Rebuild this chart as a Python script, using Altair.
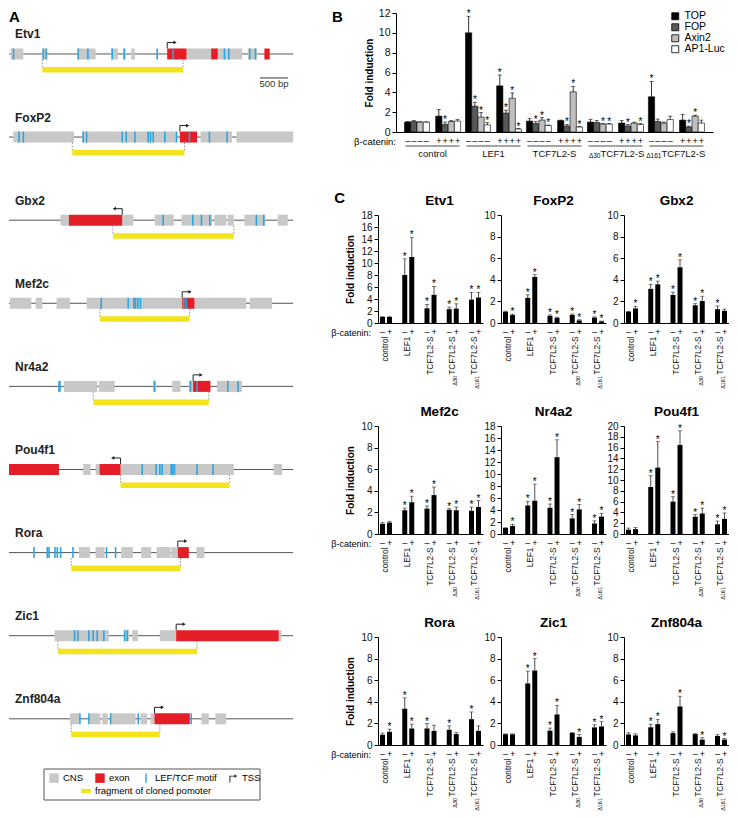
import altair as alt
import pandas as pd

FONT = "Liberation Sans"

# ======================= Panel A : promoter maps (bp) =======================
A_GENES = ["Etv1", "FoxP2", "Gbx2", "Mef2c", "Nr4a2", "Pou4f1", "Rora", "Zic1", "Znf804a"]
TRACK_END_BP = 5060
CNS_BLOCKS = {
    "Etv1": [(30, 255), (593, 682), (1216, 1542), (1820, 1939), (2040, 2080), (2176, 2242), (3161, 3600), (3718, 4151), (4252, 4418)],
    "FoxP2": [(77, 1156), (1305, 2995), (3410, 3973), (4050, 5060)],
    "Gbx2": [(919, 1067), (2016, 2212), (2597, 2935), (3072, 3617), (3659, 3872), (3896, 4003), (4193, 4566), (4786, 4963)],
    "Mef2c": [(18, 397), (474, 593), (848, 1085), (1382, 3084), (3303, 4228), (4287, 4685)],
    "Nr4a2": [(978, 1571), (1601, 1880), (2570, 2620), (2906, 3054), (3202, 3279), (3706, 4151)],
    "Pou4f1": [(1322, 1453), (1542, 1613), (1987, 4003), (4714, 4863)],
    "Rora": [(1245, 1441), (1542, 1702), (1998, 2206), (2354, 2532), (2627, 2876), (2888, 3006), (3339, 3481)],
    "Zic1": [(812, 1779), (2050, 2140), (2194, 2295), (2686, 2977), (4803, 4851)],
    "Znf804a": [(1085, 1245), (1441, 1631), (1660, 1760), (1809, 2253), (2342, 2461), (2520, 2591), (3428, 3558), (3677, 3866)],
}
EXONS = {
    "Etv1": [(2817, 3161), (3600, 3718), (4548, 4643)],
    "FoxP2": [(3042, 3350)],
    "Gbx2": [(1067, 2016)],
    "Mef2c": [(3084, 3303)],
    "Nr4a2": [(3279, 3588)],
    "Pou4f1": [(0, 890), (1613, 1987)],
    "Rora": [(3006, 3202)],
    "Zic1": [(2977, 4803)],
    "Znf804a": [(2591, 3220)],
}
MOTIFS = {
    "Etv1": [80, 611, 664, 1233, 1405, 1838, 2050, 2639, 2923, 3837, 3914, 4287, 4388],
    "FoxP2": [178, 255, 1322, 1382, 2016, 2087, 2242, 2479, 2520, 2568, 2775, 2983, 3214, 3570, 3884],
    "Gbx2": [2746, 3273, 3428, 3576, 4406, 4536],
    "Mef2c": [1643, 2123, 2224, 2253, 2295, 2342, 3113, 3155],
    "Nr4a2": [890, 907, 2591, 3232, 3350, 3896, 4080],
    "Pou4f1": [2372, 2621, 2686, 2728, 2888, 2917, 2947, 3350, 3635],
    "Rora": [445, 682, 712, 818, 860, 919, 1139, 1737, 1898],
    "Zic1": [1168, 1228, 1423, 1500, 1571, 1690, 2058, 2105],
    "Znf804a": [1263, 1423, 1809, 2301, 3244],
}
TSS_BP = {"Etv1": 2817, "FoxP2": 3042, "Gbx2": 2016, "Mef2c": 3084, "Nr4a2": 3279,
          "Pou4f1": 1987, "Rora": 3006, "Zic1": 2977, "Znf804a": 2591}
TSS_STRAND = {"Etv1": "+", "FoxP2": "+", "Gbx2": "-", "Mef2c": "+", "Nr4a2": "+",
              "Pou4f1": "-", "Rora": "+", "Zic1": "+", "Znf804a": "+"}
FRAGMENTS = {"Etv1": (593, 3101), "FoxP2": (1127, 3125), "Gbx2": (1850, 4003), "Mef2c": (1619, 3214),
             "Nr4a2": (1500, 3558), "Pou4f1": (1987, 3926), "Rora": (1109, 3054), "Zic1": (872, 3350),
             "Znf804a": (1109, 2686)}
SCALE_BAR_BP = (4470, 4970)
LEGEND_A_ITEMS = ["CNS", "exon", "LEF/TCF motif", "TSS"]
LEGEND_A_ITEM2 = ["fragment of cloned pomoter"]

# ======================= Panel B : reporter assays =======================
B_GROUPS = ["control", "LEF1", "TCF7L2-S", "Δ30TCF7L2-S", "Δ161TCF7L2-S"]
B_REPORTERS = ["TOP", "FOP", "Axin2", "AP1-Luc"]
B_CATENIN = ["-", "+"]
# order: control-, control+, LEF1-, LEF1+, TCF-, TCF+, d30-, d30+, d161-, d161+
B_VALUES = {
    "TOP":     [1.0, 1.6, 10.0, 4.65, 1.1, 1.15, 1.0, 0.9, 3.55, 1.2],
    "FOP":     [1.05, 0.75, 2.6, 1.9, 0.85, 0.6, 0.95, 0.6, 1.05, 0.5],
    "Axin2":   [1.0, 1.05, 1.5, 3.4, 1.2, 4.05, 0.8, 0.9, 0.9, 1.6],
    "AP1-Luc": [1.0, 1.1, 0.72, 0.3, 0.65, 0.5, 0.8, 0.75, 1.25, 0.9],
}
B_ERRORS = {
    "TOP":     [1.05, 2.28, 11.67, 5.75, 1.35, 1.2, 1.28, 1.15, 5.1, 1.78],
    "FOP":     [1.15, 1.0, 3.0, 2.2, 1.05, 0.77, 1.15, 0.75, 1.3, 0.6],
    "Axin2":   [1.03, 1.15, 1.95, 3.95, 1.45, 4.6, 0.85, 1.0, 1.0, 1.7],
    "AP1-Luc": [1.02, 1.25, 0.95, 0.35, 0.7, 0.55, 0.85, 0.85, 1.6, 1.2],
}
B_STARS = {
    "TOP":     [0, 0, 1, 1, 0, 0, 0, 0, 1, 0],
    "FOP":     [0, 1, 1, 1, 1, 1, 0, 1, 0, 1],
    "Axin2":   [0, 0, 1, 1, 1, 1, 1, 0, 0, 1],
    "AP1-Luc": [0, 0, 1, 1, 1, 1, 1, 1, 0, 0],
}
B_COLORS = ["#000000", "#595959", "#bfbfbf", "#ffffff"]

# ======================= Panel C : target promoters =======================
C_GENES = ["Etv1", "FoxP2", "Gbx2", "Mef2c", "Nr4a2", "Pou4f1", "Rora", "Zic1", "Znf804a"]
C_YMAX = [18, 10, 10, 10, 18, 20, 10, 10, 10]
C_VALUES = {
    "Etv1":    [1.0, 1.0, 8.0, 11.0, 2.45, 4.7, 2.3, 2.4, 3.9, 4.25],
    "FoxP2":   [1.05, 0.75, 2.33, 4.27, 0.66, 0.48, 0.75, 0.24, 0.5, 0.15],
    "Gbx2":    [1.05, 1.35, 3.16, 3.58, 2.6, 5.16, 1.64, 2.03, 1.28, 1.13],
    "Mef2c":   [0.94, 1.06, 2.2, 2.94, 2.35, 3.6, 2.24, 2.2, 2.15, 2.5],
    "Nr4a2":   [1.0, 1.35, 4.75, 5.55, 4.37, 12.8, 2.6, 4.1, 1.75, 2.9],
    "Pou4f1":  [0.8, 0.9, 8.7, 12.3, 6.0, 16.5, 3.2, 3.8, 1.8, 2.8],
    "Rora":    [0.95, 1.22, 3.36, 1.53, 1.53, 1.31, 1.41, 1.01, 2.39, 1.31],
    "Zic1":    [1.0, 1.0, 5.7, 6.9, 1.33, 2.83, 1.11, 0.75, 1.63, 1.72],
    "Znf804a": [0.98, 0.89, 1.64, 1.93, 1.1, 3.57, 1.01, 0.5, 0.83, 0.5],
}
C_ERRORS = {
    "Etv1":    [1.05, 1.05, 10.7, 14.3, 3.1, 6.1, 2.65, 3.2, 5.1, 5.1],
    "FoxP2":   [1.1, 0.83, 2.6, 4.48, 0.75, 0.54, 0.84, 0.3, 0.57, 0.18],
    "Gbx2":    [1.08, 1.55, 3.58, 3.88, 2.86, 5.85, 1.79, 2.48, 1.58, 1.28],
    "Mef2c":   [1.06, 1.18, 2.4, 3.5, 2.6, 4.35, 2.35, 2.5, 2.5, 3.1],
    "Nr4a2":   [1.05, 1.6, 5.45, 8.3, 5.0, 15.7, 3.25, 4.9, 2.2, 3.45],
    "Pou4f1":  [1.1, 1.2, 10.8, 17.1, 6.9, 19.1, 3.6, 4.8, 2.4, 3.9],
    "Rora":    [1.1, 1.47, 4.37, 1.93, 1.99, 1.83, 1.77, 1.16, 3.06, 1.77],
    "Zic1":    [1.03, 1.03, 6.84, 8.0, 1.57, 3.67, 1.15, 0.96, 1.87, 2.17],
    "Znf804a": [1.13, 1.04, 1.93, 2.38, 1.22, 4.52, 1.05, 0.68, 0.95, 0.6],
}
C_STARS = {
    "Etv1":    [0, 0, 1, 1, 1, 1, 1, 1, 1, 1],
    "FoxP2":   [0, 1, 1, 1, 1, 1, 1, 1, 1, 1],
    "Gbx2":    [0, 1, 1, 1, 1, 1, 1, 1, 1, 0],
    "Mef2c":   [0, 0, 1, 1, 1, 1, 1, 1, 1, 1],
    "Nr4a2":   [0, 1, 1, 1, 1, 1, 1, 1, 1, 1],
    "Pou4f1":  [0, 0, 1, 1, 1, 1, 1, 1, 1, 1],
    "Rora":    [0, 1, 1, 1, 1, 0, 1, 0, 1, 0],
    "Zic1":    [0, 0, 1, 1, 1, 1, 0, 1, 1, 1],
    "Znf804a": [0, 0, 1, 1, 0, 1, 0, 1, 0, 1],
}
SUBSCRIPTS = {"Δ30TCF7L2-S": "Δ30", "Δ161TCF7L2-S": "Δ161"}
SIGN = {"-": "–", "+": "+"}
LABEL_EXPR = "indexof(datum.value, 'Δ') == 0 ? 'TCF7L2-S' : datum.label"
IS_DELTA = "indexof(datum.value, 'Δ') == 0"

RES_SCALE = dict(x="independent", y="independent", xOffset="independent", fill="independent",
                 stroke="independent", shape="independent", color="independent")
RES_LEG = dict(fill="independent", stroke="independent", shape="independent", color="independent")

# ---------------------------------------------------------------------------
# Panel A chart
# ---------------------------------------------------------------------------
A_W, A_H = 292, 787
ARROW_BP = 140
gi = {g: i for i, g in enumerate(A_GENES)}

track_df = pd.DataFrame({"gene": A_GENES, "idx": list(range(len(A_GENES))),
                         "start": 0, "end": TRACK_END_BP})
cns_df = pd.DataFrame([{"idx": gi[g], "s": s, "e": e} for g in A_GENES for s, e in CNS_BLOCKS[g]])
exon_df = pd.DataFrame([{"idx": gi[g], "s": s, "e": e} for g in A_GENES for s, e in EXONS[g]])
motif_df = pd.DataFrame([{"idx": gi[g], "pos": p} for g in A_GENES for p in MOTIFS[g]])
frag_df = pd.DataFrame([{"idx": gi[g], "s": FRAGMENTS[g][0], "e": FRAGMENTS[g][1]} for g in A_GENES])
conn_df = pd.DataFrame([{"idx": gi[g], "pos": p} for g in A_GENES for p in FRAGMENTS[g]])
tss_df = pd.DataFrame([{"idx": gi[g], "tss": TSS_BP[g], "strand": TSS_STRAND[g],
                        "tip": TSS_BP[g] + (ARROW_BP if TSS_STRAND[g] == "+" else -ARROW_BP)}
                       for g in A_GENES])
bar_df = pd.DataFrame({"idx": [0], "s": [SCALE_BAR_BP[0]], "e": [SCALE_BAR_BP[1]],
                       "mid": [(SCALE_BAR_BP[0] + SCALE_BAR_BP[1]) / 2], "label": ["500 bp"]})


def ax(field):
    return alt.X(f"{field}:Q", scale=alt.Scale(domain=[0, 5200], nice=False, zero=False), axis=None)


def ay(field="idx"):
    return alt.Y(f"{field}:Q", scale=alt.Scale(domain=[-0.493, 8.977], reverse=True, nice=False, zero=False),
                 axis=None)


backbone = alt.Chart(track_df).mark_rule(color="#555555", strokeWidth=1).encode(
    x=ax("start"), x2="end", y=ay())
cns = alt.Chart(cns_df).mark_rect(color="#c8c8c8", yOffset=-5.5, y2Offset=5.5).encode(
    x=ax("s"), x2="e", y=ay(), y2="idx")
exons = alt.Chart(exon_df).mark_rect(color="#e41e26", yOffset=-5.5, y2Offset=5.5).encode(
    x=ax("s"), x2="e", y=ay(), y2="idx")
motifs = alt.Chart(motif_df).mark_rule(color="#2ca6e0", strokeWidth=1.6, yOffset=-5.5, y2Offset=5.5).encode(
    x=ax("pos"), y=ay(), y2="idx")
frags = alt.Chart(frag_df).mark_rect(color="#f2e31c", yOffset=13, y2Offset=18.5).encode(
    x=ax("s"), x2="e", y=ay(), y2="idx")
conns = alt.Chart(conn_df).mark_rule(color="#777777", strokeWidth=0.8, strokeDash=[1.5, 1.5],
                                     yOffset=5.5, y2Offset=13).encode(x=ax("pos"), y=ay(), y2="idx")
tss_v = alt.Chart(tss_df).mark_rule(color="#222222", strokeWidth=1, yOffset=-5.5, y2Offset=-11.5).encode(
    x=ax("tss"), y=ay(), y2="idx")
tss_h = alt.Chart(tss_df).mark_rule(color="#222222", strokeWidth=1, yOffset=-11.5).encode(
    x=ax("tss"), x2="tip", y=ay())
tss_head_r = alt.Chart(tss_df).transform_filter("datum.strand == '+'").mark_point(
    filled=True, color="#222222", size=14, yOffset=-11.5, opacity=1, shape="triangle-right").encode(
    x=ax("tip"), y=ay())
tss_head_l = alt.Chart(tss_df).transform_filter("datum.strand == '-'").mark_point(
    filled=True, color="#222222", size=14, yOffset=-11.5, opacity=1, shape="triangle-left").encode(
    x=ax("tip"), y=ay())
gene_lab = alt.Chart(track_df).mark_text(align="left", baseline="alphabetic", fontSize=12, fontWeight="bold",
                                         yOffset=-15.5, color="#222222").encode(
    x=alt.value(6), y=ay(), text="gene:N")
sbar = alt.Chart(bar_df).mark_rule(color="#333333", strokeWidth=1, yOffset=24).encode(
    x=ax("s"), x2="e", y=ay())
stext = alt.Chart(bar_df).mark_text(fontSize=9.5, baseline="alphabetic", yOffset=33, color="#333333").encode(
    x=ax("mid"), y=ay(), text="label:N")
a_letter = alt.Chart(pd.DataFrame({"t": ["A"]})).mark_text(
    align="left", baseline="top", fontSize=15, fontWeight="bold").encode(
    x=alt.value(0), y=alt.value(-3), text="t:N")

# legend (row 1: CNS / exon / motif / TSS, row 2: cloned fragment) inside one frame
leg_row1 = alt.Legend(orient="none", legendX=40, legendY=760, direction="horizontal",
                      title=None, labelFontSize=9.5, symbolSize=90, symbolStrokeWidth=0, symbolOpacity=1,
                      columnPadding=11, labelOffset=4)
legend_layer1 = alt.Chart(pd.DataFrame({"item": LEGEND_A_ITEMS})).mark_point(filled=True, size=0).encode(
    x=alt.value(0), y=alt.value(0),
    color=alt.Color("item:N", scale=alt.Scale(domain=LEGEND_A_ITEMS,
                                              range=["#c8c8c8", "#e41e26", "#2ca6e0", "#222222"]),
                    legend=leg_row1),
    shape=alt.Shape("item:N", scale=alt.Scale(domain=LEGEND_A_ITEMS,
                                              range=["square", "square", "M-0.15,-1H0.15V1H-0.15Z",
                                                     "M-0.75,0.9V-0.55H0.3V-0.85L0.85,-0.45L0.3,-0.05V-0.35H-0.55V0.9Z"]),
                    legend=leg_row1))
legend_layer2 = alt.Chart(pd.DataFrame({"item2": LEGEND_A_ITEM2})).mark_point(filled=True, size=0).encode(
    x=alt.value(0), y=alt.value(0),
    fill=alt.Fill("item2:N", scale=alt.Scale(domain=LEGEND_A_ITEM2, range=["#f2e31c"]),
                  legend=alt.Legend(orient="none", legendX=72, legendY=773, title=None, labelFontSize=9.5,
                                    symbolSize=90, symbolStrokeWidth=0, symbolOpacity=1, labelOffset=4,
                                    symbolType="M-1,-0.45H1V0.45H-1Z")))
legend_box = alt.Chart(pd.DataFrame({"k": [0]})).mark_rect(fill="transparent", stroke="#555555",
                                                           strokeWidth=1).encode(
    x=alt.value(35), x2=alt.value(251), y=alt.value(756), y2=alt.value(787))

panel_a = alt.layer(backbone, cns, exons, motifs, frags, conns, tss_v, tss_h, tss_head_r, tss_head_l,
                    gene_lab, sbar, stext, a_letter, legend_box, legend_layer1, legend_layer2).properties(
    width=A_W, height=A_H)

# ---------------------------------------------------------------------------
# Panel B chart (view starts at the C-column origin; plotting range starts 18 px in)
# ---------------------------------------------------------------------------
B_W, B_H = 335, 119
B_X0 = 18
SLOTS = [c + r for c in ["-"] for r in B_REPORTERS] + ["gap"] + [c + r for c in ["+"] for r in B_REPORTERS]
brows = []
for g_i, g in enumerate(B_GROUPS):
    for c_i, c in enumerate(B_CATENIN):
        k = g_i * 2 + c_i
        for r in B_REPORTERS:
            brows.append({"group": g, "cat": c, "reporter": r, "slot": c + r, "sign": SIGN[c],
                          "value": B_VALUES[r][k], "err": B_ERRORS[r][k], "star": B_STARS[r][k]})
b_df = pd.DataFrame(brows)
b_groups_df = pd.DataFrame({"group": B_GROUPS})
b_sub_df = pd.DataFrame({"group": list(SUBSCRIPTS.keys()), "sub": list(SUBSCRIPTS.values())})


def bx():
    return alt.X("group:N", sort=B_GROUPS,
                 scale=alt.Scale(domain=B_GROUPS, range=[B_X0, B_W], paddingInner=0.08, paddingOuter=0.14),
                 axis=alt.Axis(title=None, ticks=False, labelAngle=0, labelPadding=16, labelFontSize=9.5,
                               labelColor="#111111", domainColor="#000000", labelExpr=LABEL_EXPR,
                               labelOffset={"condition": {"test": IS_DELTA, "value": 7}, "value": 0}))


def bxo():
    return alt.XOffset("slot:N", sort=SLOTS, scale=alt.Scale(domain=SLOTS, paddingInner=0, paddingOuter=0))


def by(field):
    return alt.Y(f"{field}:Q", scale=alt.Scale(domain=[0, 12], nice=False),
                 axis=alt.Axis(values=list(range(0, 13, 2)), tickSize=4, labelFontSize=10.5, labelPadding=2,
                               grid=False, domainColor="#000000", tickColor="#000000", labelColor="#111111",
                               title="Fold induction", titleFontSize=10, titleFontWeight="bold",
                               titlePadding=4, titleColor="#000000", offset=-B_X0))


b_bars = alt.Chart(b_df).mark_bar(stroke="#000000", strokeWidth=0.6).encode(
    x=bx(), xOffset=bxo(), y=by("value"),
    fill=alt.Fill("reporter:N", scale=alt.Scale(domain=B_REPORTERS, range=B_COLORS),
                  legend=alt.Legend(orient="none", legendX=292, legendY=-2, title=None, labelFontSize=10.5,
                                    symbolType="square", symbolSize=49, symbolStrokeColor="#000000",
                                    symbolStrokeWidth=0.8, rowPadding=0, labelOffset=4)))
b_err = alt.Chart(b_df).mark_rule(color="#000000", strokeWidth=0.8).encode(
    x=bx(), xOffset=bxo(), y=by("value"), y2="err")
b_cap = alt.Chart(b_df).mark_tick(color="#000000", thickness=0.8, size=4).encode(
    x=bx(), xOffset=bxo(), y=by("err"))
b_star = alt.Chart(b_df).transform_filter("datum.star == 1").mark_text(
    text="*", fontSize=10, baseline="alphabetic", dy=1, color="#000000").encode(
    x=bx(), xOffset=bxo(), y=by("err"))
b_sign = alt.Chart(b_df).mark_text(fontSize=9, baseline="middle", color="#000000").encode(
    x=bx(), xOffset=bxo(), y=alt.value(B_H + 9), text="sign:N")
b_line = alt.Chart(b_groups_df).mark_tick(orient="horizontal", size=54, thickness=0.8, color="#000000").encode(
    x=bx(), y=alt.value(B_H + 14))
b_sub = alt.Chart(b_sub_df).mark_text(align="right", baseline="top", fontSize=6.5, dx=-15).encode(
    x=bx(), y=alt.value(B_H + 21), text="sub:N")
b_cat = alt.Chart(pd.DataFrame({"t": ["β-catenin:"]})).mark_text(
    align="right", baseline="middle", fontSize=9.5).encode(x=alt.value(B_X0), y=alt.value(B_H + 10),
                                                           text="t:N")
b_letter = alt.Chart(pd.DataFrame({"t": ["B"]})).mark_text(
    align="left", baseline="top", fontSize=15, fontWeight="bold").encode(
    x=alt.value(-46), y=alt.value(-3), text="t:N")

panel_b = alt.layer(b_bars, b_err, b_cap, b_star, b_sign, b_line, b_sub, b_cat, b_letter).properties(
    width=B_W, height=B_H)

# ---------------------------------------------------------------------------
# Panel C charts
# ---------------------------------------------------------------------------
C_W, C_H = 105, 108


def make_c(gene, ymax, col):
    rows = []
    for g_i, g in enumerate(B_GROUPS):
        for c_i, c in enumerate(B_CATENIN):
            k = g_i * 2 + c_i
            rows.append({"group": g, "cat": c, "sign": SIGN[c], "value": C_VALUES[gene][k],
                         "err": C_ERRORS[gene][k], "star": C_STARS[gene][k]})
    df = pd.DataFrame(rows)
    sub_df = pd.DataFrame({"group": list(SUBSCRIPTS.keys()), "sub": list(SUBSCRIPTS.values())})
    ytitle = "Fold induction" if col == 0 else None

    def cx():
        return alt.X("group:N", sort=B_GROUPS,
                     scale=alt.Scale(domain=B_GROUPS, paddingInner=0.46, paddingOuter=0.09),
                     axis=alt.Axis(title=None, ticks=False, labelAngle=270, labelPadding=13, labelFontSize=8.3,
                                   labelColor="#111111", domainColor="#000000", labelExpr=LABEL_EXPR))

    def cxo():
        return alt.XOffset("cat:N", sort=B_CATENIN,
                           scale=alt.Scale(domain=B_CATENIN, paddingInner=0.29, paddingOuter=0))

    def cy(field):
        return alt.Y(f"{field}:Q", scale=alt.Scale(domain=[0, ymax], nice=False),
                     axis=alt.Axis(values=list(range(0, ymax + 1, 2)), tickSize=4, labelFontSize=10,
                                   labelPadding=2, grid=False, domainColor="#000000", tickColor="#000000",
                                   labelColor="#111111", title=ytitle, titleFontSize=10,
                                   titleFontWeight="bold", titlePadding=5, titleColor="#000000"))

    layers = [
        alt.Chart(df).mark_bar(color="#000000").encode(x=cx(), xOffset=cxo(), y=cy("value")),
        alt.Chart(df).mark_rule(color="#222222", strokeWidth=0.8).encode(
            x=cx(), xOffset=cxo(), y=cy("value"), y2="err"),
        alt.Chart(df).mark_tick(color="#222222", thickness=0.8, size=4).encode(
            x=cx(), xOffset=cxo(), y=cy("err")),
        alt.Chart(df).transform_filter("datum.star == 1").mark_text(
            text="*", fontSize=10, baseline="alphabetic", dy=1, color="#000000").encode(
            x=cx(), xOffset=cxo(), y=cy("err")),
        alt.Chart(df).mark_text(fontSize=9, baseline="middle", color="#000000").encode(
            x=cx(), xOffset=cxo(), y=alt.value(C_H + 9), text="sign:N"),
        alt.Chart(sub_df).mark_text(angle=270, align="right", baseline="top", fontSize=5.5).encode(
            x=cx(), y=alt.value(C_H + 53), text="sub:N"),
    ]
    if col == 0:
        layers.append(alt.Chart(pd.DataFrame({"t": ["β-catenin:"]})).mark_text(
            align="right", baseline="middle", fontSize=9).encode(
            x=alt.value(-7), y=alt.value(C_H + 10), text="t:N"))
    return alt.layer(*layers).properties(
        width=C_W, height=C_H,
        title=alt.TitleParams(gene, fontSize=13.5, fontWeight="bold", offset=3, dx=(9 if col == 0 else 0)))


c_charts = [make_c(g, m, i % 3) for i, (g, m) in enumerate(zip(C_GENES, C_YMAX))]
panel_c = alt.concat(*c_charts, columns=3, spacing=alt.RowColnumber(row=103, column=18), bounds="flush",
                     title=alt.TitleParams("C", anchor="start", fontSize=15, fontWeight="bold",
                                           offset=0, dy=12, dx=3)).resolve_scale(**RES_SCALE)

right = alt.vconcat(panel_b, panel_c, spacing=30).resolve_scale(**RES_SCALE).resolve_legend(**RES_LEG)
chart = (alt.hconcat(panel_a, right, spacing=30)
         .resolve_scale(**RES_SCALE).resolve_legend(**RES_LEG)
         .properties(padding=0, background="white")
         .configure(font=FONT)
         .configure_view(stroke=None))

chart.save("out.html", embed_options={"renderer": "svg", "actions": False})
